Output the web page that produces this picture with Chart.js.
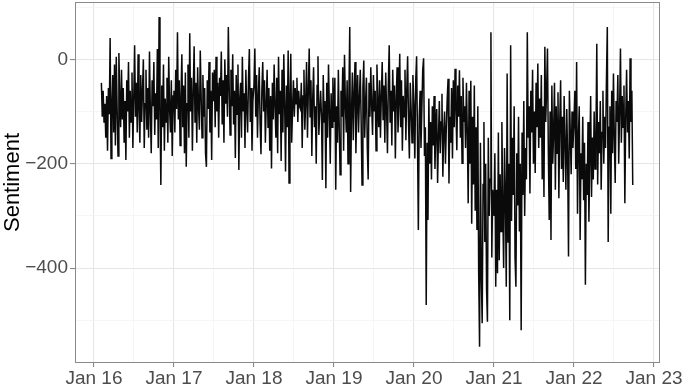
<!DOCTYPE html>
<html>
<head>
<meta charset="utf-8">
<script src="https://cdn.jsdelivr.net/npm/chart.js@4.4.1/dist/chart.umd.min.js"></script>
<style>
html,body{margin:0;padding:0;background:#fff;}
#wrap{width:685px;height:385px;position:relative;}
</style>
</head>
<body>
<div id="wrap"><canvas id="c"></canvas></div>
<script>
const stepDays = 4;
const sentiment2016 = [
 -45,-110,-60,-120,-85,-150,-70,
 -175,-55,-105,41,-190,-90,-30,-140,
 -10,-165,5,-95,-185,12,-70,
 -130,-20,-115,-55,-160,-80,-193,-40,
 -100,-5,-150,-60,-120,-25,-170,-75,
 27,-110,-45,-140,10,-95,-160,
 -30,-120,-60,0,-170,-85,-20,-135,
 -55,-150,15,-100,-180,-40,-90,
 -5,-145,-65,-115,20,-170,81,-90,
 -241,-50,-130,-10,-175,-75,-120,
 -35,-160,5,-95,-140,-40,-185,-70
];
const sentiment2017 = [
 -60,-140,-20,-95,52,-115,-40,-165,
 -70,10,-130,-50,-180,-25,-206,
 -85,-10,-150,50,-100,-35,-175,-60,
 25,-120,-45,-160,-15,-90,-135,
 17,-70,-150,-30,-110,-55,-180,-206,
 -40,-95,-5,-140,-60,-193,-25,
 -80,-20,-130,5,-100,-45,-150,-35,
 -70,15,-125,-40,-160,0,-85,-30,
 -110,62,-55,-145,-20,-90,10,
 -125,-60,-189,-30,-105,-10,-212,-75,
 -45,-150,5,-100,-65,-170,-20,
 -95,-140,-35,20,-120,-55,-175,-80
];
const sentiment2018 = [
 -50,21,-110,-30,-150,-70,-15,-125,
 -182,-60,-5,-100,-40,-160,-85,
 -20,-130,-55,-175,-70,-209,-45,-115,
 -10,-90,-150,-35,-180,5,-105,
 -60,-195,-20,-140,10,-85,-215,-50,
 -130,17,-237,-70,11,-160,-95,
 -40,-110,-55,-85,-35,-120,-60,-90,
 -95,-45,-170,-70,-20,-135,-80,-5,
 -150,-60,21,-110,-40,-185,-75,
 -15,-130,-90,-200,-50,6,-145,-100,
 -60,-110,-231,-30,-120,-80,-247,
 -45,-150,-10,-95,-200,-65,-130,-35
];
const sentiment2019 = [
 -120,-35,-250,-90,-160,-20,-130,-221,
 -60,-110,-15,-175,9,-85,-140,
 -40,-200,-70,62,-254,-100,-25,-155,
 -65,-5,-180,-95,-30,-140,-75,
 -20,-120,-241,-55,-2,-150,-85,-35,
 -170,-230,-45,-110,-15,-90,-145,
 -30,-100,-60,-175,-10,-80,-130,-40,
 -150,-70,-5,-115,-50,-160,-25,-95,
 -180,-45,27,-120,-60,-165,-20,
 -100,-50,-190,-75,-15,-140,-85,11,
 -130,-40,-175,-70,-110,-20,-155,
 -60,6,-120,-190,-45,-95,-160,-30
];
const sentiment2020 = [
 -90,-190,-40,6,-150,-327,-110,-60,
 -170,-95,-20,2,-185,-130,-471,
 -160,-308,-75,-200,-120,-230,-90,-165,
 -70,-210,-135,-95,-237,-150,-80,
 -180,-120,-66,-225,-140,-100,-200,-130,
 -75,-37,-238,-110,-160,-55,-190,
 -40,-130,-18,-95,-174,-50,-110,-21,
 -150,-70,-199,-35,-120,-90,-170,-45,
 -140,-276,-60,-200,-41,-315,-110,
 -240,-50,-290,-130,-327,-90,-410,-551,
 -160,-417,-506,-240,-120,-350,-200,
 -440,-503,-150,-300,-230,52,-380,-250
];
const sentiment2021 = [
 -300,-180,-436,-250,-410,-140,-385,-220,
 -330,-120,-280,-400,-170,-260,-436,
 -27,-350,-200,-500,27,-310,-150,-260,
 -90,-380,-436,-180,-280,-110,-330,
 -200,-519,-140,-260,-80,-300,-170,-230,
 52,-150,-90,-257,-60,-140,-20,
 -200,-100,-218,-45,-130,-8,-170,-75,
 -150,-30,-230,-90,-264,24,-120,-60,
 21,-180,-308,-100,-346,-50,-200,
 -140,-45,-250,-90,-180,-63,-266,-120,
 -40,-210,-110,-235,-70,-160,-250,
 -95,-190,-378,-60,-140,-220,-100,-170
];
const sentiment2022 = [
 -120,-60,-210,-5,-296,-150,-90,-346,
 -180,-230,-110,-270,-160,-432,-200,
 -260,-120,-311,-190,-70,-264,-150,-230,
 -100,-210,-160,30,-240,-120,-180,
 -80,-250,-140,-60,-200,-110,-170,-40,
 62,-350,-130,-90,-296,-60,-180,
 -27,-150,-237,-80,-120,-30,-200,-100,
 21,-160,-70,-130,-50,-276,-110,-20,
 -140,-80,-190,2,-120,-60,-241
];
const seriesStarts = ['2016-02-04','2017-01-01','2018-01-01','2019-01-01','2020-01-01','2021-01-01','2022-01-01'];
const seriesValues = [sentiment2016,sentiment2017,sentiment2018,sentiment2019,sentiment2020,sentiment2021,sentiment2022];

const xTickYears  = [2016,2017,2018,2019,2020,2021,2022,2023];
const xTickLabels = ['Jan 16','Jan 17','Jan 18','Jan 19','Jan 20','Jan 21','Jan 22','Jan 23'];
const xMinorYears = [2016.5,2017.5,2018.5,2019.5,2020.5,2021.5,2022.5];
const yTicks      = [-400,-200,0];
const yTickLabels = ['\u2212400','\u2212200','0'];
const yMinor      = [-500,-300,-100,100];

// ---- build points ----
function toYear(ms){
  const d = new Date(ms);
  const y = d.getUTCFullYear();
  const s = Date.UTC(y,0,1), e = Date.UTC(y+1,0,1);
  return y + (ms - s)/(e - s);
}
const points = [];
seriesStarts.forEach((start, k) => {
  const t0 = Date.parse(start + 'T00:00:00Z');
  seriesValues[k].forEach((v, i) => {
    points.push({x: toYear(t0 + i*stepDays*86400000), y: v});
  });
});

const isMajorX = v => xTickYears.includes(v);
const isMajorY = v => yTicks.includes(v);

const panelBorder = {
  id: 'panelBorder',
  afterDraw(chart){
    const a = chart.chartArea, ctx = chart.ctx;
    ctx.save();
    ctx.strokeStyle = '#8a8a8a';
    ctx.lineWidth = 1;
    ctx.strokeRect(Math.round(a.left)+0.5, Math.round(a.top)+0.5, Math.round(a.width)-1, Math.round(a.height)-1);
    ctx.restore();
  }
};

new Chart(document.getElementById('c'), {
  type: 'line',
  data: {
    datasets: [{
      data: points,
      borderColor: '#0a0a0a',
      borderWidth: 1.5,
      pointRadius: 0,
      tension: 0,
      fill: false
    }]
  },
  options: {
    responsive: true,
    maintainAspectRatio: false,
    animation: false,
    devicePixelRatio: 1,
    parsing: false,
    normalized: true,
    layout: {padding: {left: 0, right: 25, top: 2, bottom: 0}},
    plugins: {legend: {display: false}, tooltip: {enabled: false}},
    scales: {
      x: {
        type: 'linear',
        min: 2015.763,
        max: 2023.075,
        afterBuildTicks(scale){
          scale.ticks = xTickYears.concat(xMinorYears).sort((a,b)=>a-b).map(v => ({value: v}));
        },
        afterFit(scale){ scale.height = 22; scale.paddingLeft = 0; scale.paddingRight = 0; },
        border: {display: false},
        grid: {
          color: c => (c.tick && isMajorX(c.tick.value)) ? '#e6e6e6' : '#f2f2f2',
          lineWidth: c => (c.tick && isMajorX(c.tick.value)) ? 1.1 : 0.7,
          tickColor: c => (c.tick && isMajorX(c.tick.value)) ? '#8a8a8a' : 'rgba(0,0,0,0)',
          tickLength: 4
        },
        ticks: {
          autoSkip: false,
          maxRotation: 0,
          padding: 0,
          color: '#4d4d4d',
          font: {family: '"Liberation Sans", Arial, sans-serif', size: 19},
          callback: v => { const i = xTickYears.indexOf(v); return i >= 0 ? xTickLabels[i] : ''; }
        }
      },
      y: {
        type: 'linear',
        min: -582,
        max: 110,
        afterBuildTicks(scale){
          scale.ticks = yTicks.concat(yMinor).sort((a,b)=>a-b).map(v => ({value: v}));
        },
        afterFit(scale){ scale.width = 75; scale.paddingTop = 0; scale.paddingBottom = 0; },
        border: {display: false},
        grid: {
          color: c => (c.tick && isMajorY(c.tick.value)) ? '#e6e6e6' : '#f2f2f2',
          lineWidth: c => (c.tick && isMajorY(c.tick.value)) ? 1.1 : 0.7,
          tickColor: c => (c.tick && isMajorY(c.tick.value)) ? '#8a8a8a' : 'rgba(0,0,0,0)',
          tickLength: 5
        },
        ticks: {
          autoSkip: false,
          padding: 2,
          color: '#4d4d4d',
          font: {family: '"Liberation Sans", Arial, sans-serif', size: 19},
          callback: v => { const i = yTicks.indexOf(v); return i >= 0 ? yTickLabels[i] : ''; }
        },
        title: {
          display: true,
          text: 'Sentiment',
          color: '#000000',
          padding: {top: 0, bottom: 0},
          font: {family: '"Liberation Sans", Arial, sans-serif', size: 22}
        }
      }
    }
  },
  plugins: [panelBorder]
});
</script>
</body>
</html>
